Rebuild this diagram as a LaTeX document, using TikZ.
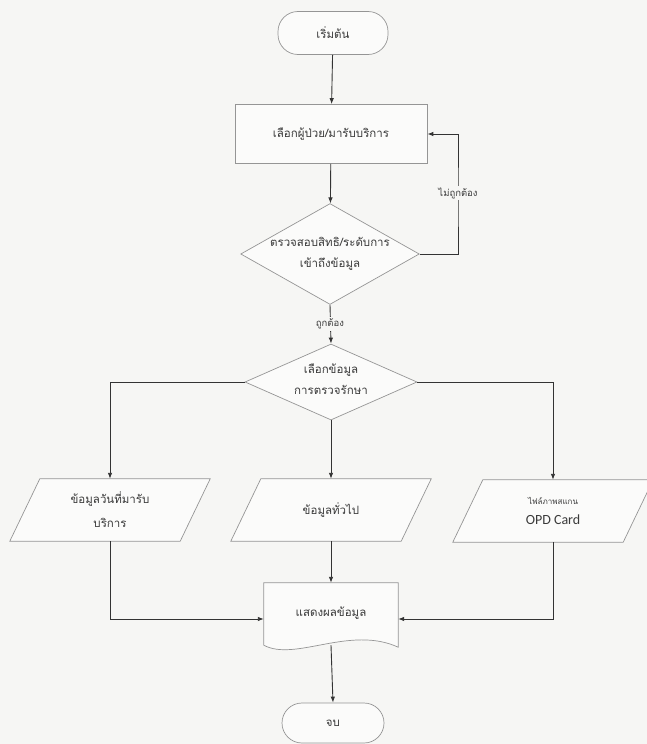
\documentclass[tikz,border=0pt]{standalone}
\usepackage{fontspec}
\newfontfamily\thai[Script=Thai]{Loma}
\newfontfamily\lat{Carlito}
\usetikzlibrary{shapes.geometric,arrows.meta}
\definecolor{paper}{HTML}{F6F6F4}
\definecolor{shapefill}{HTML}{FBFBFA}
\definecolor{shapeline}{HTML}{959595}
\definecolor{wire}{HTML}{333333}
\definecolor{ink}{HTML}{3A3A3A}
\begin{document}
\begin{tikzpicture}[x=1pt,y=-1pt,
  thaitext/.style={text=ink, font=\thai\fontsize{11.5}{21}\selectfont, align=center},
  box/.style={thaitext, draw=shapeline, fill=shapefill, line width=0.7pt, inner sep=0pt},
  term/.style={box, rounded corners=20pt},
  proc/.style={box},
  decision/.style={box, diamond},
  iobox/.style={thaitext, inner sep=0pt, minimum width=170, minimum height=62},
  docbox/.style={thaitext, inner sep=0pt, minimum width=134, minimum height=60},
  outline/.style={draw=shapeline, fill=shapefill, line width=0.7pt},
  conn/.style={draw=wire, line width=0.9pt, -{Latex[length=6pt,width=4.5pt]}},
  lbl/.style={thaitext, font=\thai\fontsize{9.5}{11}\selectfont, fill=paper, inner sep=1.5pt}
]
\fill[paper] (0,0) rectangle (647,744);
\useasboundingbox (0,0) rectangle (647,744);

% flow steps
\node[term, minimum width=110, minimum height=43] (start) at (333,33) {เริ่มต้น};
\node[proc, minimum width=192, minimum height=59] (select) at (331,134) {เลือกผู้ป่วย/มารับบริการ};
\node[decision, aspect=1.77, minimum width=175, minimum height=99] (check) at (330,254)
  {ตรวจสอบสิทธิ/ระดับการ\\เข้าถึงข้อมูล};
\node[decision, aspect=2.26, minimum width=172, minimum height=76] (choose) at (331,382)
  {};
\node[thaitext] at ([yshift=3pt]choose.center) {เลือกข้อมูล\\การตรวจรักษา};

% data (parallelogram) boxes
\node[iobox] (visit) at (110,510) {};
\node[iobox] (general) at (331,510) {};
\node[iobox] (scan) at (553,511) {};
\foreach \n in {visit,general,scan}{
  \draw[outline] ([xshift=15pt]\n.north west) -- ([xshift=15pt]\n.north east)
    -- ([xshift=-15pt]\n.south east) -- ([xshift=-15pt]\n.south west) -- cycle;
}
\node[thaitext, font=\thai\fontsize{11.5}{24}\selectfont] at (visit) {ข้อมูลวันที่มารับ\\บริการ};
\node[thaitext] at (general) {ข้อมูลทั่วไป};
\node[thaitext, align=center] at (scan)
  {{\thai\fontsize{8}{10}\selectfont ไฟล์ภาพสแกน}\\[-1pt]{\lat\fontsize{14}{15}\selectfont OPD Card}};

% display (document) shape
\node[docbox] (doc) at (331,613) {};
\draw[outline] (doc.north west) -- (doc.north east) -- ([yshift=-4pt]doc.south east)
  .. controls (350,625) and (295,662) .. ([yshift=-2pt]doc.south west) -- cycle;
\node[thaitext] at (doc) {แสดงผลข้อมูล};

\node[term, minimum width=102, minimum height=40] (stop) at (333,723) {จบ};

% connectors
\coordinate (bend) at (458,200);
\draw[conn] (start) -- (select);
\draw[conn] (select) -- (check);
\draw[conn] (check.east) -| (bend) |- (select.east);
\draw[conn] (check.south) -- (choose.north);
\draw[conn] (choose.west) -| (visit.north);
\draw[conn] (choose.south) -- (general.north);
\draw[conn] (choose.east) -| (scan.north);
\draw[conn] (general.south) -- (doc.north);
\draw[conn] (visit.south) |- ([yshift=-6pt]doc.west);
\draw[conn] (scan.south) |- ([yshift=-6pt]doc.east);
\draw[conn] ([yshift=-2pt]doc.south) -- (stop.north);

% branch labels
\node[lbl] (nok) at (458,193) {ไม่ถูกต้อง};
\node[lbl] (ok) at (330,324) {ถูกต้อง};
\end{tikzpicture}
\end{document}
